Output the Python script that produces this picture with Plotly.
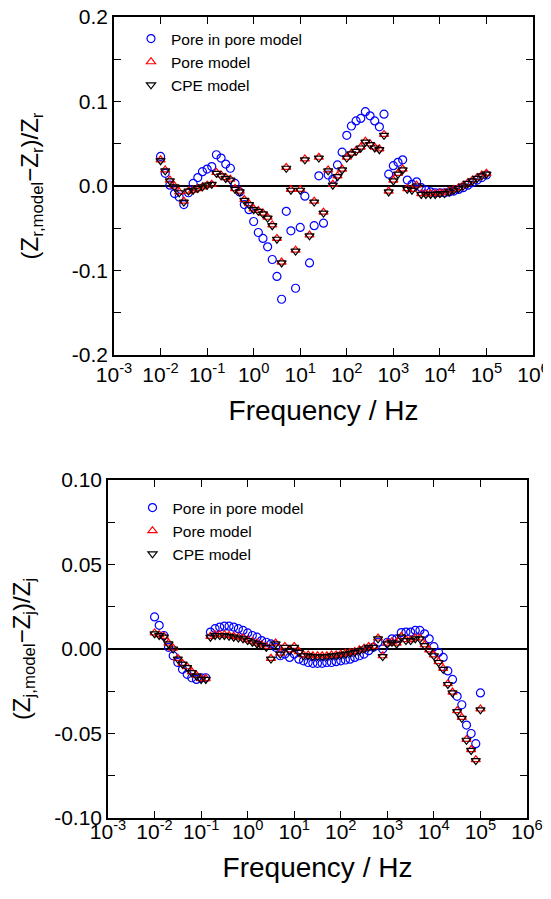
import plotly.graph_objects as go

# Frequencies (Hz), ~10 points per decade
freq_hz = [0.01, 0.01259, 0.01585, 0.01995, 0.02512, 0.03162, 0.03981, 0.05012, 0.0631, 0.07943,
           0.1, 0.1259, 0.1585, 0.1995, 0.2512, 0.3162, 0.3981, 0.5012, 0.631, 0.7943,
           1.0, 1.259, 1.585, 1.995, 2.512, 3.162, 3.981, 5.012, 6.31, 7.943,
           10, 12.59, 15.85, 19.95, 25.12, 31.62, 39.81, 50.12, 63.1, 79.43,
           100, 125.9, 158.5, 199.5, 251.2, 316.2, 398.1, 501.2, 631, 794.3,
           1000, 1259, 1585, 1995, 2512, 3162, 3981, 5012, 6310, 7943,
           10000, 12590, 15850, 19950, 25120, 31620, 39810, 50120, 63100, 79430, 100000]

# Relative residuals of the real part
zr_pore_in_pore = [0.035, 0.015, 0.001, -0.009, -0.013, -0.022, -0.008, 0.003, 0.010, 0.017, 0.020, 0.023,
                   0.037, 0.033, 0.026, 0.021, 0.003, -0.007, -0.022, -0.028, -0.042, -0.055, -0.062, -0.072, -0.087, -0.107, -0.134,
                   -0.030, -0.053, -0.121, -0.049, -0.012, -0.091, -0.047, 0.012, -0.044, 0.013, 0.008, 0.025, 0.040, 0.060, 0.071, 0.077, 0.080, 0.088, 0.083, 0.077, 0.070, 0.085,
                   0.014, 0.024, 0.028, 0.031, 0.007, 0.002, 0.005, -0.002, -0.005, -0.007, -0.008, -0.008, -0.008, -0.007, -0.006, -0.004, -0.002, 0.001, 0.004, 0.007, 0.010, 0.013]
zr_pore = [0.031, 0.019, 0.007, 0.000, -0.007, -0.018, -0.006, -0.005, -0.003, -0.001, 0.001, 0.002,
           0.016, 0.013, 0.010, 0.008, -0.003, -0.006, -0.016, -0.021, -0.027, -0.029, -0.032, -0.037, -0.046, -0.062, -0.090,
           0.022, -0.004, -0.076, -0.004, 0.032, -0.058, -0.018, 0.034, -0.031, 0.019, 0.002, 0.012, 0.020, 0.034, 0.039, 0.042, 0.046, 0.053, 0.050, 0.046, 0.044, 0.061,
           -0.006, 0.007, 0.015, 0.020, -0.003, -0.004, 0.001, -0.009, -0.009, -0.009, -0.009, -0.008, -0.008, -0.006, -0.004, -0.002, 0.001, 0.004, 0.007, 0.010, 0.013, 0.015]
zr_cpe = [0.030, 0.018, 0.006, -0.001, -0.008, -0.019, -0.006, -0.005, -0.003, -0.001, 0.001, 0.002,
          0.015, 0.012, 0.009, 0.007, -0.004, -0.007, -0.017, -0.022, -0.028, -0.030, -0.033, -0.038, -0.047, -0.063, -0.091,
          0.021, -0.005, -0.077, -0.005, 0.031, -0.059, -0.019, 0.033, -0.032, 0.018, 0.001, 0.011, 0.019, 0.033, 0.038, 0.041, 0.045, 0.052, 0.049, 0.045, 0.043, 0.060,
          -0.007, 0.006, 0.014, 0.019, -0.004, -0.005, 0.000, -0.010, -0.010, -0.010, -0.010, -0.009, -0.009, -0.007, -0.005, -0.003, 0.000, 0.003, 0.006, 0.009, 0.012, 0.014]

# Relative residuals of the imaginary part
zj_pore_in_pore = [0.019, 0.014, 0.008, 0.001, -0.004, -0.008, -0.012, -0.015, -0.017, -0.018, -0.017, -0.017,
                   0.010, 0.012, 0.013, 0.0135, 0.0135, 0.013, 0.012, 0.011, 0.0095, 0.008, 0.007, 0.005, 0.004, 0.003, 0.001,
                   -0.004, -0.003, -0.005, -0.003, -0.006, -0.007, -0.008, -0.0085, -0.0085, -0.0085, -0.008, -0.008, -0.0075, -0.007, -0.0065, -0.006, -0.005, -0.004, -0.003, -0.001, 0.001, 0.004,
                   0.000, 0.004, 0.006, 0.006, 0.0097, 0.010, 0.010, 0.011, 0.011, 0.009, 0.006, 0.0014, -0.002, -0.005, -0.013, -0.018, -0.028, -0.033, -0.045, -0.050, -0.056, -0.026]
zj_pore = [0.0095, 0.0085, 0.0075, 0.0035, 0.0005, -0.0055, -0.0085, -0.0105, -0.0135, -0.0155, -0.0175, -0.0175,
           0.0075, 0.0085, 0.0085, 0.0085, 0.008, 0.0075, 0.007, 0.0065, 0.0055, 0.0045, 0.0035, 0.0025, 0.0015, -0.0055, 0.0035,
           -0.0025, 0.0015, -0.0005, 0.0015, -0.0015, -0.0035, -0.0035, -0.004, -0.004, -0.004, -0.004, -0.0035, -0.0035, -0.003, -0.0025, -0.002, -0.0015, -0.0005, 0.0005, 0.0015, 0.0015, 0.0065,
           -0.004, 0.0035, 0.0045, 0.0035, 0.0075, 0.0055, 0.0055, 0.0065, 0.0065, 0.0025, -0.0005, -0.0035, -0.0075, -0.0115, -0.0205, -0.0255, -0.0365, -0.0405, -0.0535, -0.0595, -0.0655, -0.0355]
zj_cpe = [0.009, 0.008, 0.007, 0.003, 0.000, -0.006, -0.009, -0.011, -0.014, -0.016, -0.018, -0.018,
          0.007, 0.008, 0.008, 0.008, 0.0075, 0.007, 0.0065, 0.006, 0.005, 0.004, 0.003, 0.002, 0.001, -0.006, 0.003,
          -0.003, 0.001, -0.001, 0.001, -0.002, -0.004, -0.004, -0.0045, -0.0045, -0.0045, -0.0045, -0.004, -0.004, -0.0035, -0.003, -0.0025, -0.002, -0.001, 0.000, 0.001, 0.001, 0.006,
          -0.0045, 0.003, 0.004, 0.003, 0.007, 0.005, 0.005, 0.006, 0.006, 0.002, -0.001, -0.004, -0.008, -0.012, -0.021, -0.026, -0.037, -0.041, -0.054, -0.060, -0.066, -0.036]

series_names = ["Pore in pore model", "Pore model", "CPE model"]
series_colors = ["#0000FF", "#FF0000", "#000000"]
series_symbols = ["circle-open", "triangle-up-open", "triangle-down-open"]

x_tickvals = [1e-3, 1e-2, 1e-1, 1e0, 1e1, 1e2, 1e3, 1e4, 1e5, 1e6]
x_ticktext = ["10<sup>-3</sup>", "10<sup>-2</sup>", "10<sup>-1</sup>", "10<sup>0</sup>", "10<sup>1</sup>",
              "10<sup>2</sup>", "10<sup>3</sup>", "10<sup>4</sup>", "10<sup>5</sup>", "10<sup>6</sup>"]
yr_tickvals = [-0.2, -0.1, 0.0, 0.1, 0.2]
yr_ticktext = ["-0.2", "-0.1", "0.0", "0.1", "0.2"]
yj_tickvals = [-0.10, -0.05, 0.0, 0.05, 0.10]
yj_ticktext = ["-0.10", "-0.05", "0.00", "0.05", "0.10"]

FONT = "Arial, Liberation Sans, sans-serif"
# page body has an 8 px margin; figure sized to fit the 551x899 window
OFF = 8
W, H = 551 - OFF, 899 - OFF

fig = go.Figure()
top_data = [zr_pore_in_pore, zr_pore, zr_cpe]
bot_data = [zj_pore_in_pore, zj_pore, zj_cpe]
for k in range(3):
    fig.add_trace(go.Scatter(x=freq_hz, y=top_data[k], mode="markers", name=series_names[k],
                             marker=dict(symbol=series_symbols[k], size=8, color=series_colors[k],
                                         line=dict(width=1.2, color=series_colors[k])),
                             xaxis="x", yaxis="y", legend="legend"))
for k in range(3):
    fig.add_trace(go.Scatter(x=freq_hz, y=bot_data[k], mode="markers", name=series_names[k],
                             marker=dict(symbol=series_symbols[k], size=8, color=series_colors[k],
                                         line=dict(width=1.2, color=series_colors[k])),
                             xaxis="x2", yaxis="y2", legend="legend2"))

def xax(domain, anchor, label_standoff, title_standoff):
    return dict(type="log", range=[-3, 6], domain=domain, anchor=anchor,
                tickvals=x_tickvals, ticktext=x_ticktext, ticks="inside", ticklen=7, tickwidth=1.3,
                tickcolor="black", showline=True, linecolor="black", linewidth=1.5, mirror="ticks",
                showgrid=False, zeroline=False, automargin=False, ticklabelstandoff=label_standoff,
                ticklabeloverflow="allow",
                tickfont=dict(family=FONT, size=21, color="black"),
                title=dict(text="Frequency / Hz", font=dict(family=FONT, size=28, color="black"),
                           standoff=title_standoff))

def yax(domain, anchor, rng, tv, tt, minor_dtick, title, standoff):
    return dict(range=rng, domain=domain, anchor=anchor, tickvals=tv, ticktext=tt,
                ticks="inside", ticklen=7, tickwidth=1.3, tickcolor="black",
                minor=dict(ticks="inside", ticklen=7, tickwidth=1.3, tickcolor="black", dtick=minor_dtick, tick0=0),
                showline=True, linecolor="black", linewidth=1.5, mirror="ticks",
                showgrid=False, zeroline=True, zerolinecolor="black", zerolinewidth=1.5, automargin=False,
                ticklabeloverflow="allow",
                tickfont=dict(family=FONT, size=21, color="black"),
                title=dict(text=title, font=dict(family=FONT, size=24, color="black"), standoff=standoff))

def px_x(a, b):
    return [(a - OFF) / W, (b - OFF) / W]

def px_y(top, bottom):
    return [1 - (bottom - OFF) / H, 1 - (top - OFF) / H]

fig.update_layout(
    width=W, height=H, margin=dict(l=0, r=0, t=0, b=0),
    paper_bgcolor="white", plot_bgcolor="white",
    font=dict(family=FONT, color="black"),
    xaxis=xax(px_x(114, 533), "y", 0, 15),
    yaxis=yax(px_y(17, 355), "x", [-0.2, 0.2], yr_tickvals, yr_ticktext, 0.05,
              "(Z<sub>r,model</sub>−Z<sub>r</sub>)/Z<sub>r</sub>", 26),
    xaxis2=xax(px_x(108, 527), "y2", -6, 15),
    yaxis2=yax(px_y(480, 818), "x2", [-0.1, 0.1], yj_tickvals, yj_ticktext, 0.025,
               "(Z<sub>j,model</sub>−Z<sub>j</sub>)/Z<sub>j</sub>", 17),
    legend=dict(x=(131 - OFF) / W, y=1 - (22 - OFF) / H, xanchor="left", yanchor="top",
                bgcolor="rgba(0,0,0,0)", font=dict(family=FONT, size=15.5, color="black"), tracegroupgap=0),
    legend2=dict(x=(132.5 - OFF) / W, y=1 - (491 - OFF) / H, xanchor="left", yanchor="top",
                 bgcolor="rgba(0,0,0,0)", font=dict(family=FONT, size=15.5, color="black"), tracegroupgap=0),
    showlegend=True,
)

fig.write_html("out.html")
